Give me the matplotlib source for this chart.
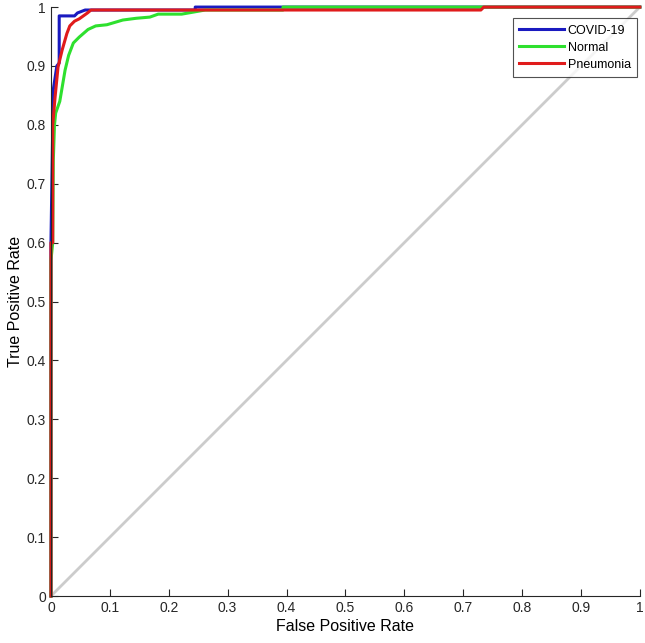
import matplotlib
matplotlib.use("Agg")
import matplotlib.pyplot as plt

plt.rcParams['font.family'] = ['Liberation Sans', 'DejaVu Sans']

# ROC curves
covid_fpr = [0, 0, 0.004, 0.010, 0.014, 0.014, 0.040, 0.045, 0.058, 0.245, 0.245, 1]
covid_tpr = [0, 0.60, 0.86, 0.900, 0.905, 0.985, 0.985, 0.990, 0.995, 0.995, 1.000, 1]

normal_fpr = [0, 0, 0.003, 0.004, 0.006, 0.008, 0.015, 0.024, 0.030, 0.038, 0.048, 0.063,
              0.076, 0.095, 0.122, 0.145, 0.168, 0.182, 0.222, 0.262, 0.394, 0.394, 1]
normal_tpr = [0, 0.57, 0.60, 0.74, 0.80, 0.82, 0.84, 0.893, 0.918, 0.939, 0.949, 0.962,
              0.968, 0.970, 0.978, 0.981, 0.983, 0.988, 0.988, 0.995, 0.995, 1.0, 1]

pneu_fpr = [0, 0, 0.003, 0.003, 0.007, 0.012, 0.019, 0.027, 0.032, 0.040, 0.048, 0.062,
            0.068, 0.730, 0.735, 1]
pneu_tpr = [0, 0.60, 0.60, 0.80, 0.847, 0.898, 0.927, 0.955, 0.968, 0.976, 0.980, 0.990,
            0.995, 0.995, 1.0, 1]

fig = plt.figure(figsize=(6.45, 6.43), dpi=100)
ax = fig.add_axes([0.079, 0.073, 0.913, 0.916])

ax.plot([0, 1], [0, 1], color='#cccccc', lw=2, clip_on=False)
ax.plot(covid_fpr, covid_tpr, color='#1a1ac0', lw=2.2, label='COVID-19', clip_on=False)
ax.plot(normal_fpr, normal_tpr, color='#2ee02e', lw=2.2, label='Normal', clip_on=False)
ax.plot(pneu_fpr, pneu_tpr, color='#e01b1b', lw=2.2, label='Pneumonia', clip_on=False)

ax.set_xlim(0, 1)
ax.set_ylim(0, 1)
ax.set_xticks([i / 10 for i in range(11)])
ax.set_yticks([i / 10 for i in range(11)])
ax.set_xticklabels(['0'] + [f'{i/10:.1f}' for i in range(1, 10)] + ['1'])
ax.set_yticklabels(['0'] + [f'{i/10:.1f}' for i in range(1, 10)] + ['1'])
ax.tick_params(direction='in', length=5, labelsize=10, colors='#262626')
ax.spines['top'].set_visible(False)
ax.spines['right'].set_visible(False)
for s in ('left', 'bottom'):
    ax.spines[s].set_color('#262626')
    ax.spines[s].set_linewidth(0.8)

ax.set_xlabel('False Positive Rate', fontsize=11.5, labelpad=3)
ax.set_ylabel('True Positive Rate', fontsize=11.5, labelpad=3)

leg = ax.legend(loc='upper right', bbox_to_anchor=(0.995, 0.981), fontsize=9,
                frameon=True, fancybox=False, edgecolor='#262626',
                handlelength=3.6, handletextpad=0.25, borderpad=0.5, labelspacing=0.4,
                borderaxespad=0)
leg.get_frame().set_linewidth(0.8)

fig.savefig('out.png', dpi=100)
